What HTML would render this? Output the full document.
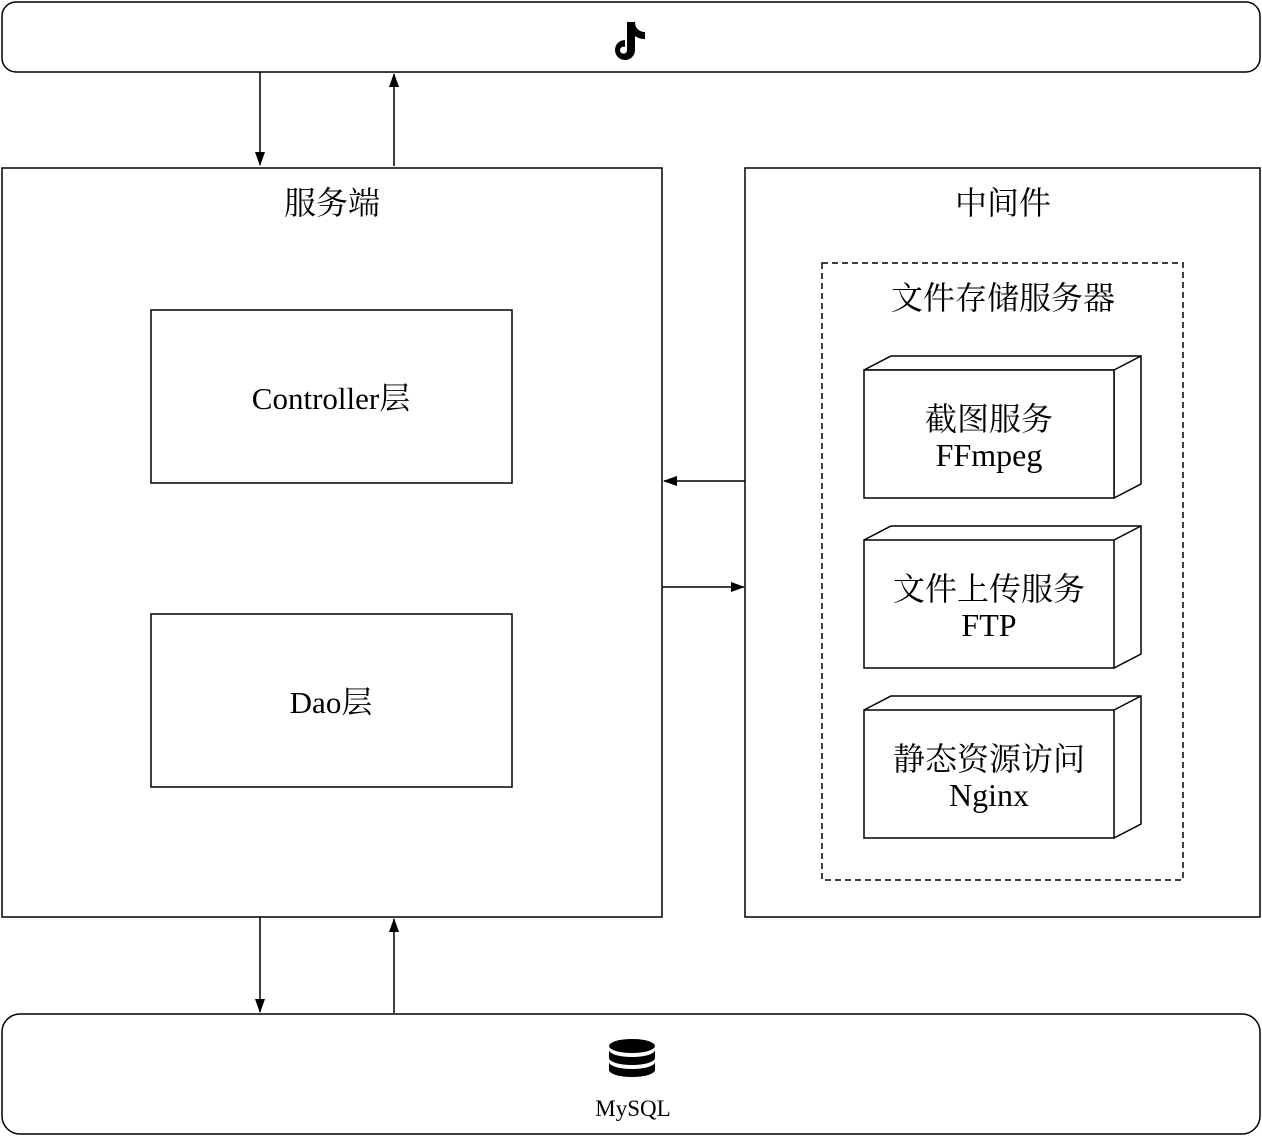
<!DOCTYPE html>
<html><head><meta charset="utf-8"><style>body{margin:0;background:#fff}svg{display:block}text{font-family:"Liberation Serif","Noto Serif CJK SC",serif;fill:#000}</style></head><body>
<svg width="1262" height="1136" viewBox="0 0 1262 1136" xmlns="http://www.w3.org/2000/svg">
<defs><marker id="a" markerWidth="14" markerHeight="12" refX="13" refY="6" orient="auto" markerUnits="userSpaceOnUse"><path d="M0,1 L14,6 L0,11 Z" fill="#000"/></marker></defs>
<g fill="none" stroke="#000" stroke-width="1.5">
<rect x="2" y="2" width="1258" height="70" rx="14"/>
<rect x="2" y="1014" width="1258" height="120" rx="18"/>
<rect x="2" y="168" width="660" height="749"/>
<rect x="745" y="168" width="515" height="749"/>
<rect x="151" y="310" width="361" height="173"/>
<rect x="151" y="614" width="361" height="173"/>
<rect x="822" y="263" width="361" height="617" stroke-dasharray="6,4"/>
<line x1="260" y1="72" x2="260" y2="165" marker-end="url(#a)"/>
<line x1="394" y1="166" x2="394" y2="74" marker-end="url(#a)"/>
<line x1="260" y1="917" x2="260" y2="1012" marker-end="url(#a)"/>
<line x1="394" y1="1013" x2="394" y2="919" marker-end="url(#a)"/>
<line x1="745" y1="481" x2="664" y2="481" marker-end="url(#a)"/>
<line x1="662" y1="587" x2="744" y2="587" marker-end="url(#a)"/>
</g>
<g fill="#fff" stroke="#000" stroke-width="1.5">
<path d="M864,370 L891,356 L1141,356 L1141,484 L1114,498 M864,370 L1114,370 L1141,356 M1114,370 L1114,498"/>
<rect x="864" y="370" width="250" height="128"/>
<path d="M864,540 L891,526 L1141,526 L1141,654 L1114,668 M1114,540 L1141,526"/>
<rect x="864" y="540" width="250" height="128"/>
<path d="M864,710 L891,696 L1141,696 L1141,824 L1114,838 M1114,710 L1141,696"/>
<rect x="864" y="710" width="250" height="128"/>
</g>
<g text-anchor="middle" font-size="32">
<text x="332" y="214">服务端</text>
<text x="1003" y="214">中间件</text>
<text x="1003" y="309">文件存储服务器</text>
<text x="331" y="409" font-size="31">Controller层</text>
<text x="331" y="713" font-size="31">Dao层</text>
<text x="989" y="430">截图服务</text>
<text x="989" y="466">FFmpeg</text>
<text x="989" y="600">文件上传服务</text>
<text x="989" y="636">FTP</text>
<text x="989" y="770">静态资源访问</text>
<text x="989" y="806">Nginx</text>
<text x="633" y="1116" font-size="23">MySQL</text>
</g>
<path d="M627,22 h8 c0,6 4,10 10,10 v7 c-4,0 -7,-1 -10,-3 v14 a10,10 0 1 1 -10,-10 v7 a3.5,3.5 0 1 0 2,3 Z" fill="#000"/>
<g fill="#000">
<ellipse cx="632" cy="1046" rx="23" ry="7"/>
<path d="M609,1050 a23,7 0 0 0 46,0 v8 a23,7 0 0 1 -46,0 Z"/>
<path d="M609,1062 a23,7 0 0 0 46,0 v8 a23,7 0 0 1 -46,0 Z"/>
</g>
</svg>
</body></html>
